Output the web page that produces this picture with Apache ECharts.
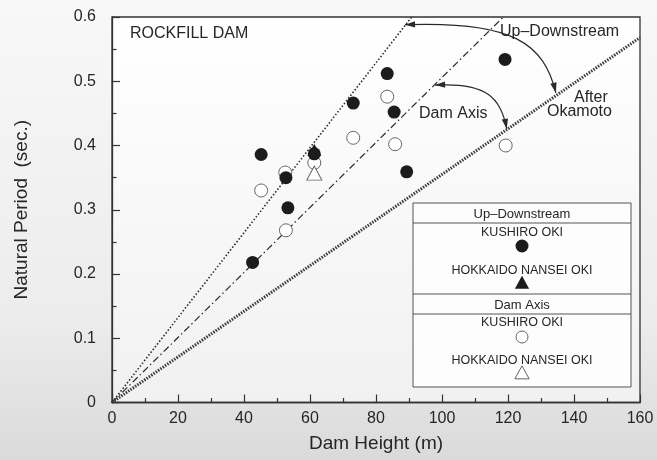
<!DOCTYPE html>
<html><head><meta charset="utf-8">
<script src="https://cdn.jsdelivr.net/npm/echarts@6/dist/echarts.min.js"></script>
<style>html,body{margin:0;padding:0;background:#fff}#c{width:657px;height:460px}</style>
</head><body><div id="c"></div>
<script>
// ---- data (Dam Height m, Natural Period s) ----
const udKushiro = [[42.6,0.218],[45.2,0.386],[52.7,0.350],[53.3,0.303],[61.3,0.387],[73.1,0.466],[83.4,0.512],[85.5,0.452],[89.3,0.359],[119.1,0.534]];
const udHokkaido = [[61.3,0.393]];
const daKushiro = [[45.2,0.330],[52.5,0.358],[52.7,0.268],[61.3,0.373],[73.1,0.412],[83.4,0.476],[85.8,0.402],[119.3,0.400]];
const daHokkaido = [[61.3,0.357]];
const upDownLine = [[0,0],[90.8,0.6]];
const damAxisLine = [[0,0],[118.6,0.6]];
const okamotoLine = [[0,0],[160,0.568]];
const arcs = [[88.8,0.588,134.5,0.482],[97.9,0.494,119.6,0.426]];
const xRange = [0,160], xStep = 20;
const yRange = [0,0.6], yStep = 0.1;

const FONT = '"Liberation Sans", Arial, Helvetica, sans-serif';
const TXT = '#262626';
const chart = echarts.init(document.getElementById('c'), null, {renderer:'canvas'});

function renderArc(params, api){
  const p1 = api.coord([api.value(0), api.value(1)]);
  const p2 = api.coord([api.value(2), api.value(3)]);
  const dx = p2[0]-p1[0], dy = p2[1]-p1[1];
  const k = 0.72;
  const c1 = [p1[0]+k*dx, p1[1]-0.06*dy];
  const c2 = [p2[0]-0.08*dx, p2[1]-k*dy];
  function head(tip, from){
    const ddx = tip[0]-from[0], ddy = tip[1]-from[1];
    const L = Math.hypot(ddx, ddy); const ux = ddx/L, uy = ddy/L;
    const len = 10, w = 3.2;
    const bx = tip[0]-ux*len, by = tip[1]-uy*len;
    return {type:'polygon', shape:{points:[tip,[bx-uy*w,by+ux*w],[bx+uy*w,by-ux*w]]}, style:{fill:'#2a2a2a'}};
  }
  return {type:'group', children:[
    {type:'bezierCurve', shape:{x1:p1[0],y1:p1[1],cpx1:c1[0],cpy1:c1[1],cpx2:c2[0],cpy2:c2[1],x2:p2[0],y2:p2[1]},
     style:{stroke:'#2a2a2a', lineWidth:1.2, fill:null}},
    head(p1, c1), head(p2, c2)
  ]};
}

const LX = 413, LY = 203, LW = 218, LH = 184, LC = LX + LW/2;
function ltxt(t, y, size){
  return {type:'text', x:LC, y:y, z:100, style:{text:t, font:(size||12.5)+'px '+FONT, fill:TXT, align:'center', verticalAlign:'middle'}};
}
function hline(y){ return {type:'line', z:100, shape:{x1:LX,y1:y,x2:LX+LW,y2:y}, style:{stroke:'#555', lineWidth:1}}; }
function tri(cx, cy, s, fill, stroke){
  return {type:'polygon', z:100, shape:{points:[[cx,cy-s*0.55],[cx+s*0.55,cy+s*0.45],[cx-s*0.55,cy+s*0.45]]}, style:{fill:fill, stroke:stroke, lineWidth:1}};
}
function atxt(t, x, y, align){
  return {type:'text', x:x, y:y, z:50, style:{text:t, font:'16px '+FONT, fill:TXT, align:align||'left', verticalAlign:'middle'}};
}

chart.setOption({
  animation:false,
  backgroundColor:{type:'linear',x:0,y:0,x2:0,y2:1,colorStops:[{offset:0,color:'#f8f8f8'},{offset:0.7,color:'#ececec'},{offset:1,color:'#dadada'}]},
  grid:{left:112,right:17,top:17,bottom:57.5,show:true,borderColor:'#333',borderWidth:1.3,
    backgroundColor:{type:'linear',x:0,y:0,x2:0,y2:1,colorStops:[{offset:0,color:'#ffffff'},{offset:1,color:'#f1f1f1'}]}},
  xAxis:{type:'value',min:xRange[0],max:xRange[1],interval:xStep,
    name:'Dam Height (m)',nameLocation:'middle',nameGap:32,
    nameTextStyle:{fontFamily:FONT,fontSize:19,color:TXT},
    axisLine:{show:true,onZero:false,lineStyle:{color:'#333',width:1.3}},
    axisTick:{show:true,inside:true,length:8,lineStyle:{color:'#333',width:1.2}},
    minorTick:{show:true,splitNumber:2,length:4.5,lineStyle:{color:'#333',width:1.2}},
    axisLabel:{fontFamily:FONT,fontSize:16,color:TXT,margin:8},
    splitLine:{show:false}},
  yAxis:{type:'value',min:yRange[0],max:yRange[1],interval:yStep,
    name:'Natural Period  (sec.)',nameLocation:'middle',nameGap:81,
    nameTextStyle:{fontFamily:FONT,fontSize:19,color:TXT},
    axisLine:{show:true,onZero:false,lineStyle:{color:'#333',width:1.3}},
    axisTick:{show:true,inside:true,length:8,lineStyle:{color:'#333',width:1.2}},
    minorTick:{show:true,splitNumber:2,length:4.5,lineStyle:{color:'#333',width:1.2}},
    axisLabel:{fontFamily:FONT,fontSize:16,color:TXT,margin:16,formatter:function(v){return v===0?'0':v.toFixed(1);}},
    splitLine:{show:false}},
  series:[
    {type:'line',data:upDownLine,showSymbol:false,symbol:'none',silent:true,z:2,
     lineStyle:{color:'#2a2a2a',width:1.6,type:[1.5,2]}},
    {type:'line',data:damAxisLine,showSymbol:false,symbol:'none',silent:true,z:2,
     lineStyle:{color:'#2a2a2a',width:1.2,type:[7,3,1.5,3]}},
    {type:'line',data:okamotoLine,showSymbol:false,symbol:'none',silent:true,z:2,
     lineStyle:{color:'#3a3a3a',width:3,type:[1.5,1.3]}},
    {type:'custom',coordinateSystem:'cartesian2d',data:arcs,renderItem:renderArc,silent:true,z:3,
     encode:{x:[0,2],y:[1,3]}},
    {type:'scatter',data:daKushiro,symbol:'circle',symbolSize:13,z:4,
     itemStyle:{color:'#ffffff',borderColor:'#666',borderWidth:1,opacity:1}},
    {type:'scatter',data:daHokkaido,symbol:'triangle',symbolSize:[15,14],z:4,
     itemStyle:{color:'#ffffff',borderColor:'#666',borderWidth:1,opacity:1}},
    {type:'scatter',data:udKushiro,symbol:'circle',symbolSize:13,z:5,
     itemStyle:{color:'#1c1c1c',opacity:1}},
    {type:'scatter',data:udHokkaido,symbol:'triangle',symbolSize:[14,12],z:5,
     itemStyle:{color:'#1c1c1c',opacity:1}}
  ],
  graphic:[
    atxt('ROCKFILL DAM',130,34),
    atxt('Up\u2013Downstream',500,32),
    atxt('Dam Axis',419,114),
    atxt('After',574,98),
    atxt('Okamoto',547,112),
    {type:'rect',z:99,shape:{x:LX,y:LY,width:LW,height:LH},style:{fill:'#fdfdfd',stroke:'#555',lineWidth:1}},
    hline(223), hline(294), hline(314),
    ltxt('Up\u2013Downstream',214,13),
    ltxt('KUSHIRO OKI',233),
    {type:'circle',z:100,shape:{cx:LC,cy:246,r:6.5},style:{fill:'#1c1c1c'}},
    ltxt('HOKKAIDO NANSEI OKI',271),
    tri(LC,283,13,'#1c1c1c',null),
    ltxt('Dam Axis',305,13),
    ltxt('KUSHIRO OKI',323),
    {type:'circle',z:100,shape:{cx:LC,cy:337,r:6},style:{fill:'#fff',stroke:'#666',lineWidth:1}},
    ltxt('HOKKAIDO NANSEI OKI',361),
    tri(LC,373,13,'#fff','#666')
  ]
});
</script></body></html>
